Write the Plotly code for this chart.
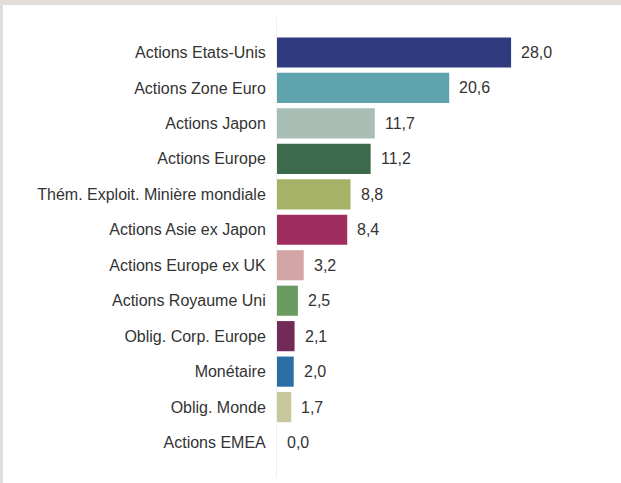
import plotly.graph_objects as go

categories = [
    "Actions Etats-Unis", "Actions Zone Euro", "Actions Japon", "Actions Europe",
    "Thém. Exploit. Minière mondiale", "Actions Asie ex Japon", "Actions Europe ex UK",
    "Actions Royaume Uni", "Oblig. Corp. Europe", "Monétaire", "Oblig. Monde", "Actions EMEA",
]
values = [28.0, 20.6, 11.7, 11.2, 8.8, 8.4, 3.2, 2.5, 2.1, 2.0, 1.7, 0.0]
colors = [
    "#2f3b7e", "#5fa3ae", "#a9bfb5", "#3c6a4a", "#a5b268", "#a02d5f",
    "#d3a6a6", "#6a9b60", "#722a58", "#2a6ea5", "#c8c79b", "#cccccc",
]
labels = [f"{v:.1f}".replace(".", ",") for v in values]

# page frame: grey band 5px on top, 3px on the left
FT, FL = 5, 3
W, H = 621 - FL, 483 - FT
L, R, T, B = 274, 51, 12, 5
FONT = "Liberation Sans, Arial, sans-serif"

fig = go.Figure()
fig.add_trace(go.Bar(
    x=values, y=categories, orientation="h",
    marker=dict(color=colors, line=dict(width=0)),
    width=0.85, hoverinfo="skip",
))
for c, v, t in zip(categories, values, labels):
    fig.add_annotation(x=v, y=c, text=t, showarrow=False, xanchor="left",
                       xshift=8, font=dict(size=16, color="#333333", family=FONT))

fig.update_layout(
    width=W, height=H,
    margin=dict(l=L, r=R, t=T, b=B, pad=0),
    paper_bgcolor="white", plot_bgcolor="white",
    showlegend=False,
    font=dict(family=FONT, size=16, color="#333333"),
    xaxis=dict(range=[0, (W - L - R) / 8.36], showgrid=False, showticklabels=False,
               zeroline=False, showline=False, ticks=""),
    yaxis=dict(categoryorder="array", categoryarray=categories,
               range=[12.0, -1.0], showgrid=False, zeroline=False,
               showline=True, linecolor="#f0f0f0", linewidth=1,
               ticks="outside", ticklen=7, tickcolor="rgba(0,0,0,0)",
               tickfont=dict(size=16, color="#333333", family=FONT)),
)

post = (
    "document.body.style.margin='0';"
    f"document.body.style.padding='{FT}px 0 0 {FL}px';"
    "document.body.style.background='#e2ddd8';"
    "document.documentElement.style.background='#e2ddd8';"
)
fig.write_html("out.html", post_script=post, config={"displayModeBar": False})
